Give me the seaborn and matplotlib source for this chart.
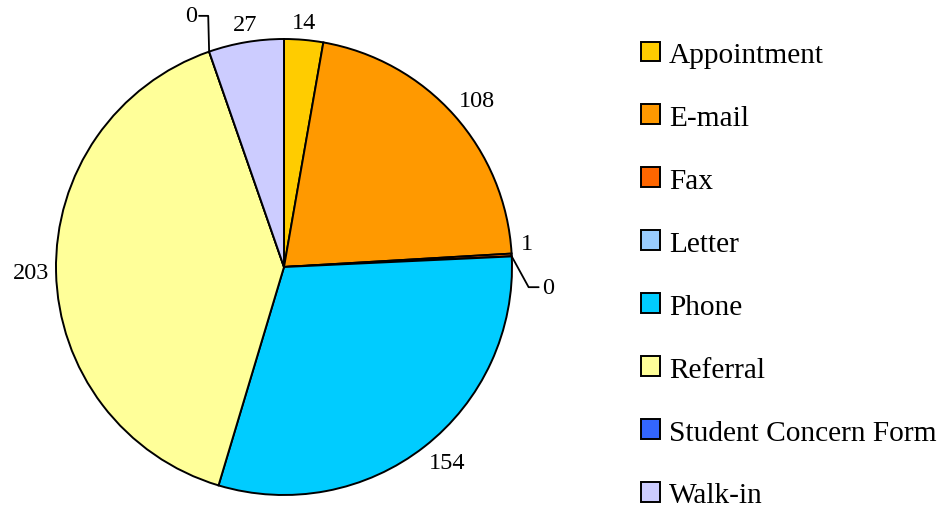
import numpy as np
import matplotlib
matplotlib.use("Agg")
import matplotlib.pyplot as plt
import seaborn as sns

# Data
categories = ["Appointment", "E-mail", "Fax", "Letter", "Phone",
              "Referral", "Student Concern Form", "Walk-in"]
counts = [14, 108, 1, 0, 154, 203, 0, 27]
colors = ["#FFCC00", "#FF9900", "#FF6600", "#99CCFF", "#00CCFF",
          "#FFFF99", "#3366FF", "#CCCCFF"]

sns.set_theme(style="white")
plt.rcParams['font.family'] = ['Liberation Serif', 'DejaVu Serif']
plt.rcParams['text.color'] = 'black'

fig = plt.figure(figsize=(9.41, 5.10), dpi=100)
ax = fig.add_axes([55 / 941, 14 / 510, 458 / 941, 456 / 510])

palette = sns.color_palette(colors)
wedges, _ = ax.pie(counts, colors=palette, startangle=90, counterclock=False,
                   wedgeprops=dict(edgecolor="black", linewidth=1.4))
ax.set_xlim(-1, 1)
ax.set_ylim(-1, 1)
ax.set_aspect("equal")

# Data labels
total = sum(counts)
cum = np.cumsum([0] + counts)
for i, v in enumerate(counts):
    mid = np.deg2rad(90 - (cum[i] + v / 2) / total * 360)
    c, s = np.cos(mid), np.sin(mid)
    if v == 0:
        # leader line for zero slices
        x0, y0 = c, s
        if c > 0:
            ex, ey = x0 + 0.074, y0 - 0.135
            tx = ex + 0.044
            ax.plot([x0, ex, tx], [y0, ey, ey], color="black", lw=1.3, clip_on=False)
            ax.text(tx + 0.015, ey, str(v), ha="left", va="center", fontsize=17.5)
        else:
            ex, ey = x0 - 0.004, y0 + 0.157
            tx = ex - 0.04
            ax.plot([x0, ex, tx], [y0, ey, ey], color="black", lw=1.3, clip_on=False)
            ax.text(tx - 0.01, ey, str(v), ha="right", va="center", fontsize=17.5)
        continue
    r = 1.03
    ha = "left" if c > 0.3 else ("right" if c < -0.3 else "center")
    va = "bottom" if s > 0.3 else ("top" if s < -0.3 else "center")
    yoff = 0.05 if (v == 1) else 0.0
    xoff = 0.01 if (v == 1) else 0.0
    ax.text(r * c + xoff, r * s + yoff, str(v), ha=ha, va=va, fontsize=17.5)

fig.legend(wedges, categories, loc="center left",
           bbox_to_anchor=(641 / 941, 234 / 510),
           frameon=False, fontsize=21.2, handlelength=0.65, handleheight=0.65,
           handletextpad=0.3, labelspacing=1.25, borderpad=0, borderaxespad=0)

fig.savefig("out.png", dpi=100)
